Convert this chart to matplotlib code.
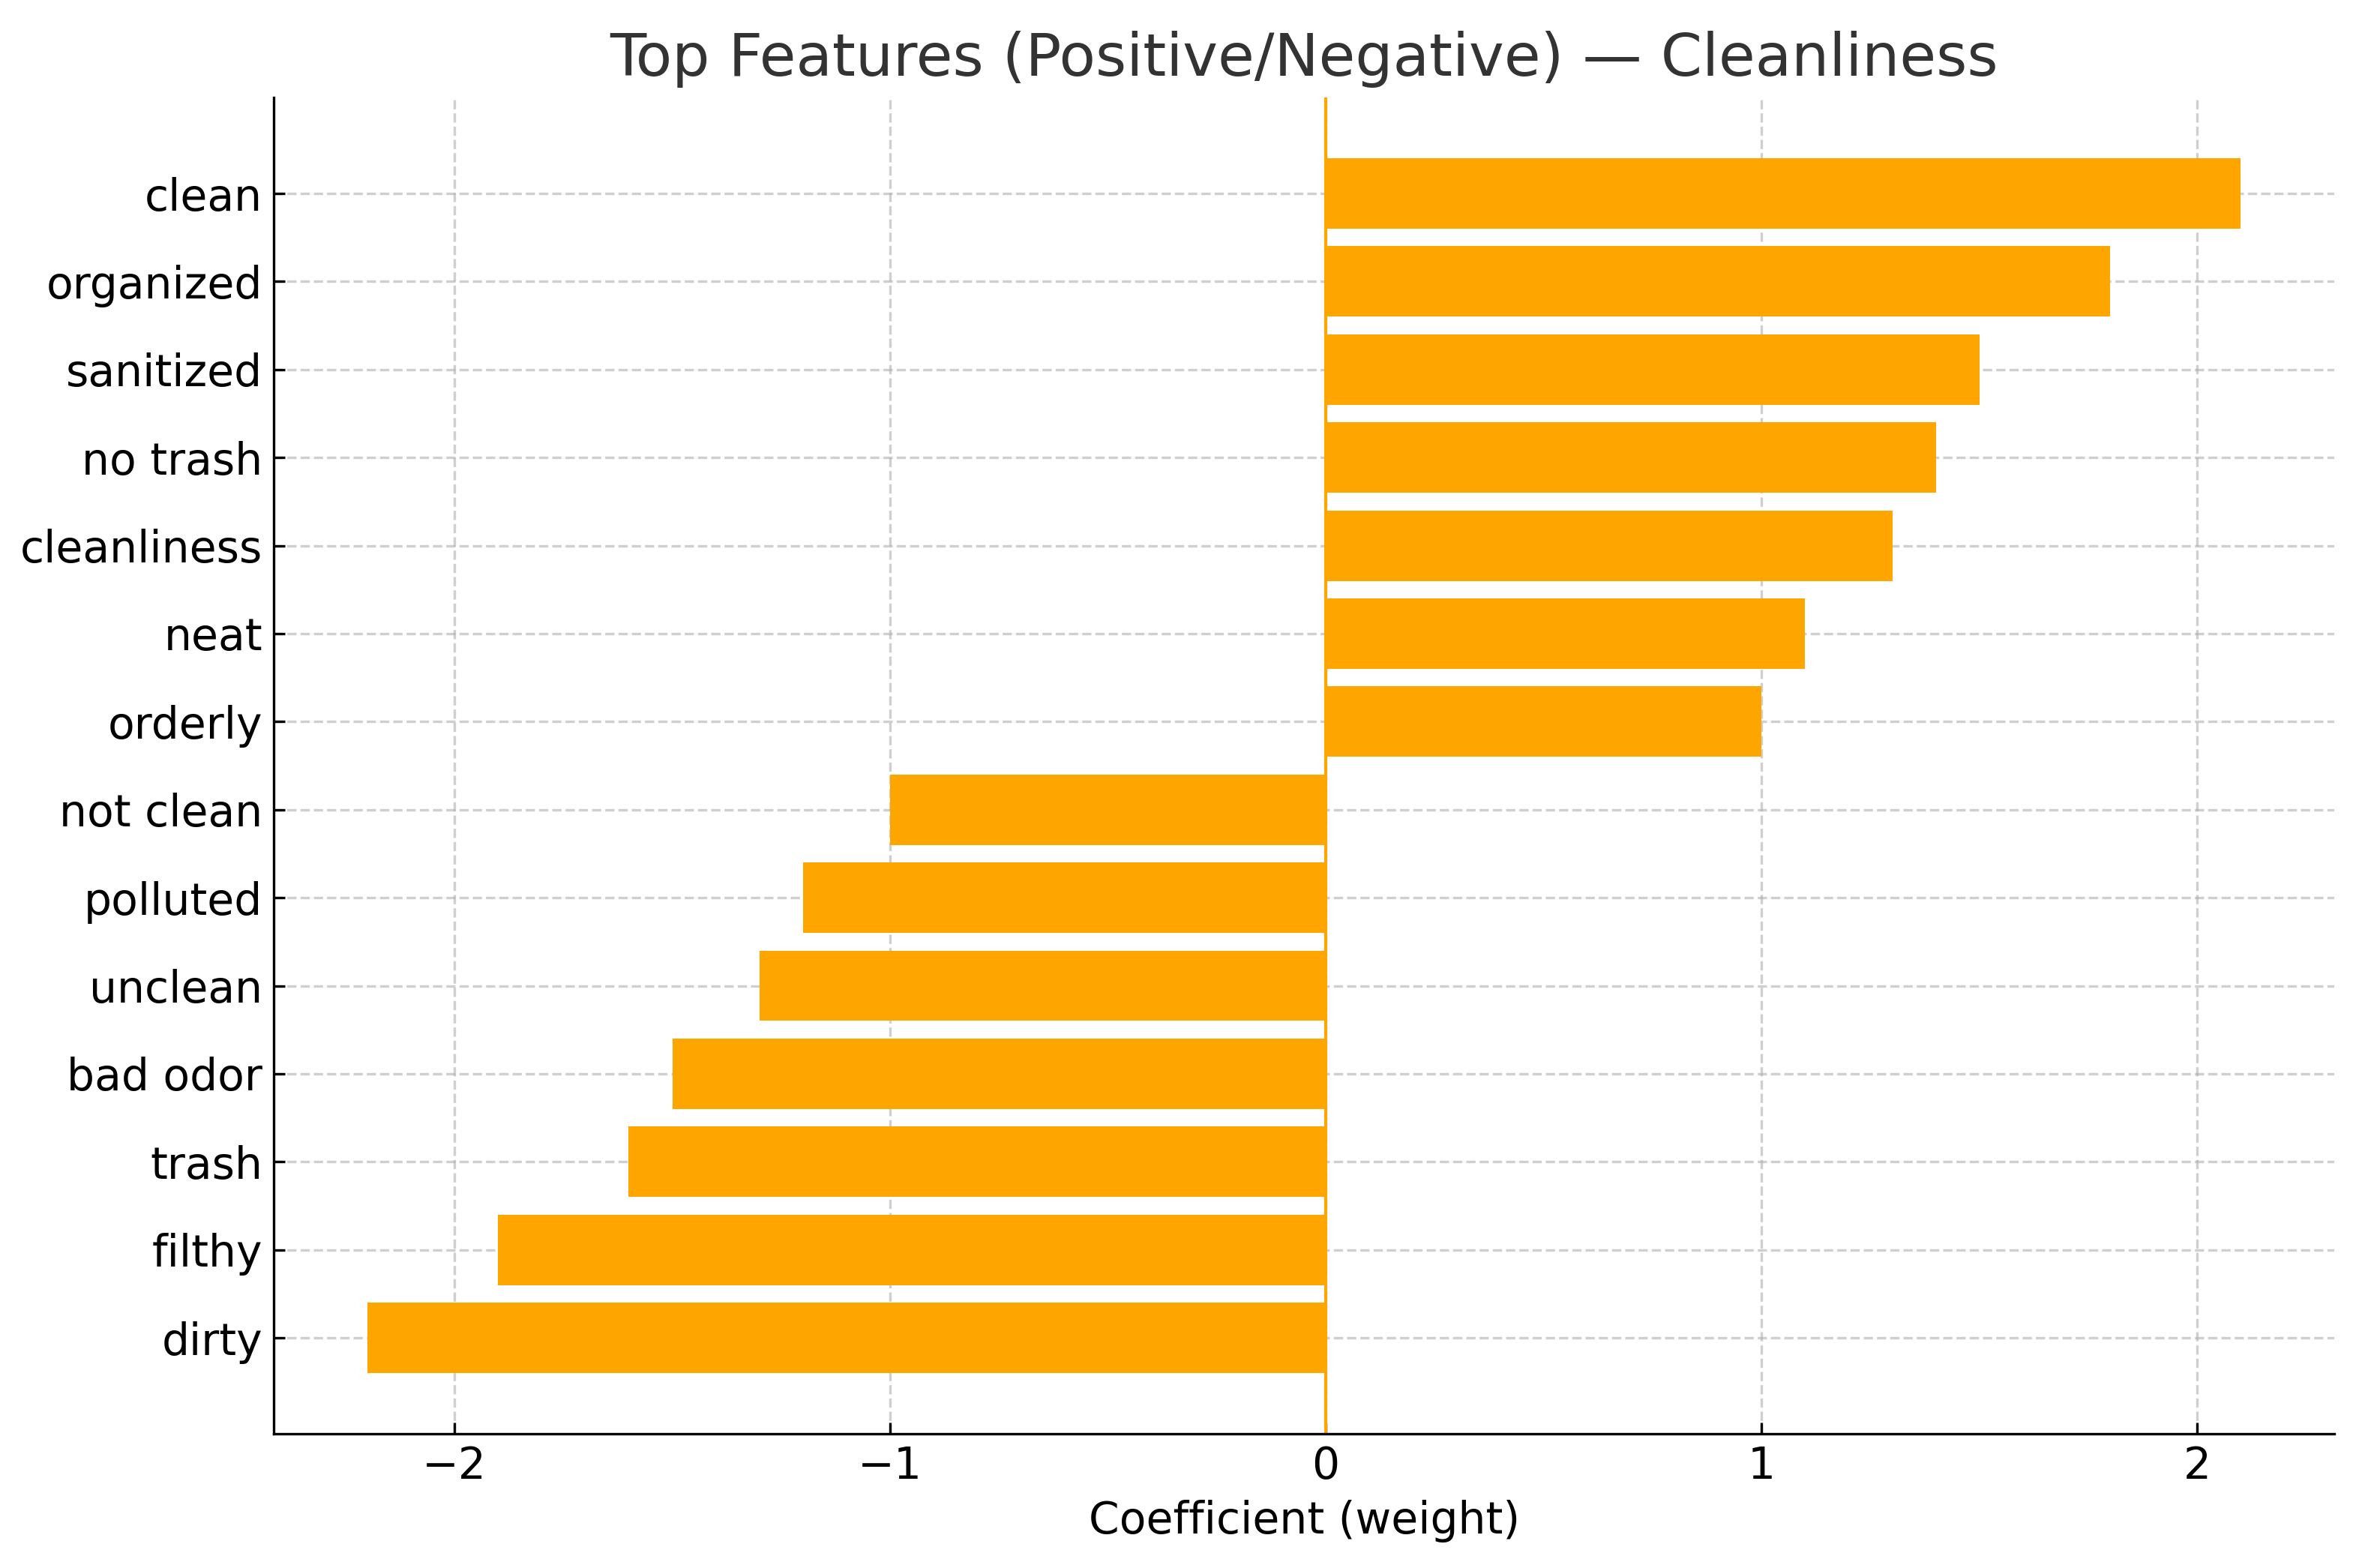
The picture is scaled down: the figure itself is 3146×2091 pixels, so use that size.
import matplotlib.pyplot as plt

features = [
    "clean", "organized", "sanitized", "no trash", "cleanliness", "neat", "orderly",
    "not clean", "polluted", "unclean", "bad odor", "trash", "filthy", "dirty",
]
weights = [2.1, 1.8, 1.5, 1.4, 1.3, 1.1, 1.0,
           -1.0, -1.2, -1.3, -1.5, -1.6, -1.9, -2.2]

fig, ax = plt.subplots(figsize=(3146 / 300, 2091 / 300), dpi=300)
fig.subplots_adjust(left=0.116, right=0.9896, top=0.9378, bottom=0.0856)

# reverse so the first feature sits at the top
ax.barh(features[::-1], weights[::-1], color="orange")
ax.axvline(0, color="orange", linewidth=1)

ax.set_title("Top Features (Positive/Negative) \u2014 Cleanliness",
             fontsize=19, color="#333333", pad=7)
ax.set_xlabel("Coefficient (weight)", fontsize=14)
ax.tick_params(labelsize=14, direction="in", pad=3.5)
ax.grid(True, linestyle="--", alpha=0.6)
ax.set_axisbelow(True)
ax.spines["top"].set_visible(False)
ax.spines["right"].set_visible(False)

fig.savefig("out.png", dpi=300)
